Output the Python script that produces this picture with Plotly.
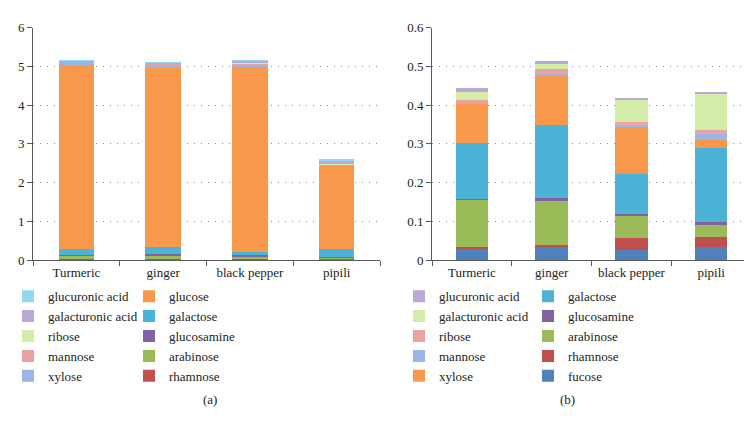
import plotly.graph_objects as go

categories = ["Turmeric", "ginger", "black pepper", "pipili"]

# Panel (a) — stacked bottom to top
a_names = ["rhamnose", "arabinose", "glucosamine", "galactose", "glucose",
           "xylose", "mannose", "ribose", "galacturonic acid", "glucuronic acid"]
a_rhamnose = [0.02, 0.03, 0.05, 0.04]
a_arabinose = [0.10, 0.10, 0.05, 0.03]
a_glucosamine = [0.02, 0.02, 0.02, 0.02]
a_galactose = [0.14, 0.18, 0.10, 0.19]
a_glucose = [4.75, 4.62, 4.75, 2.17]
a_xylose = [0.10, 0.12, 0.10, 0.02]
a_mannose = [0.01, 0.01, 0.02, 0.01]
a_ribose = [0.005, 0.01, 0.01, 0.01]
a_galacturonic = [0.01, 0.01, 0.05, 0.10]
a_glucuronic = [0.01, 0.01, 0.01, 0.01]
a_values = [a_rhamnose, a_arabinose, a_glucosamine, a_galactose, a_glucose,
            a_xylose, a_mannose, a_ribose, a_galacturonic, a_glucuronic]

# Panel (b) — stacked bottom to top
b_names = ["fucose", "rhamnose", "arabinose", "glucosamine", "galactose",
           "xylose", "mannose", "ribose", "galacturonic acid", "glucuronic acid"]
b_fucose = [0.030, 0.035, 0.025, 0.034]
b_rhamnose = [0.004, 0.005, 0.032, 0.025]
b_arabinose = [0.123, 0.116, 0.059, 0.031]
b_glucosamine = [0.001, 0.004, 0.004, 0.008]
b_galactose = [0.145, 0.188, 0.101, 0.190]
b_xylose = [0.102, 0.132, 0.125, 0.022]
b_mannose = [0.001, 0.001, 0.001, 0.014]
b_ribose = [0.008, 0.013, 0.010, 0.012]
b_galacturonic = [0.019, 0.013, 0.059, 0.094]
b_glucuronic = [0.011, 0.007, 0.003, 0.003]
b_values = [b_fucose, b_rhamnose, b_arabinose, b_glucosamine, b_galactose,
            b_xylose, b_mannose, b_ribose, b_galacturonic, b_glucuronic]

a_colors = {"rhamnose": "#c0504d", "arabinose": "#9bbb59", "glucosamine": "#8064a2",
            "galactose": "#4bb3d6", "glucose": "#f7984a", "xylose": "#9db5e4",
            "mannose": "#eba3a2", "ribose": "#d3eca8", "galacturonic acid": "#b8a9d6",
            "glucuronic acid": "#93d8f0"}
b_colors = {"fucose": "#4f81bd", "rhamnose": "#c0504d", "arabinose": "#9bbb59",
            "glucosamine": "#8064a2", "galactose": "#4bb3d6", "xylose": "#f7984a",
            "mannose": "#9db5e4", "ribose": "#eba3a2", "galacturonic acid": "#d3eca8",
            "glucuronic acid": "#b8a9d6"}

a_col1 = {"glucuronic acid", "galacturonic acid", "ribose", "mannose", "xylose"}
b_col1 = {"glucuronic acid", "galacturonic acid", "ribose", "mannose", "xylose"}

FONT = "Liberation Serif, DejaVu Serif, serif"
fig = go.Figure()

for name, vals in zip(a_names, a_values):
    fig.add_trace(go.Bar(x=categories, y=vals, name=name, marker_color=a_colors[name],
                         marker_line_width=0, xaxis="x", yaxis="y",
                         legend="legend" if name in a_col1 else "legend2"))
for name, vals in zip(b_names, b_values):
    fig.add_trace(go.Bar(x=categories, y=vals, name=name, marker_color=b_colors[name],
                         marker_line_width=0, xaxis="x2", yaxis="y2",
                         legend="legend3" if name in b_col1 else "legend4"))

W, H = 752, 425
axis_common = dict(showline=True, linecolor="#5a5a5a", linewidth=1, ticks="outside",
                   tickcolor="#5a5a5a", ticklen=5,
                   tickfont=dict(family=FONT, size=13, color="#222"))
ydom = [1 - 254 / H, 1 - 13 / H]
grid = dict(showgrid=True, gridcolor="#8a8a8a", griddash="1px,6px", gridwidth=1.2, zeroline=False)

leg_common = dict(font=dict(family=FONT, size=13, color="#222"), traceorder="reversed",
                  bgcolor="rgba(0,0,0,0)", yanchor="top", y=1 - 276 / H, xanchor="left",
                  itemwidth=30, tracegroupgap=0)

fig.update_layout(
    width=W, height=H, margin=dict(l=0, r=0, t=0, b=0),
    paper_bgcolor="white", plot_bgcolor="white", barmode="stack", bargap=0.59,
    font=dict(family=FONT, size=13, color="#222"),
    xaxis=dict(domain=[25 / W, 372 / W], anchor="y", tickson="boundaries", **axis_common),
    yaxis=dict(domain=ydom, anchor="x", range=[0, 6], dtick=1, **grid, **axis_common),
    xaxis2=dict(domain=[424 / W, 743 / W], anchor="y2", tickson="boundaries", **axis_common),
    yaxis2=dict(domain=ydom, anchor="x2", range=[0, 0.6],
                tickvals=[0, 0.1, 0.2, 0.3, 0.4, 0.5, 0.6],
                ticktext=["0", "0.1", "0.2", "0.3", "0.4", "0.5", "0.6"],
                **grid, **axis_common),
    legend=dict(x=0, **leg_common),
    legend2=dict(x=121 / W, **leg_common),
    legend3=dict(x=391 / W, **leg_common),
    legend4=dict(x=520 / W, **leg_common),
    annotations=[
        dict(text="(a)", x=193 / W, y=1 - 399 / H, xref="paper", yref="paper",
             yanchor="middle", showarrow=False, font=dict(family=FONT, size=13, color="#222")),
        dict(text="(b)", x=569 / W, y=1 - 399 / H, xref="paper", yref="paper",
             yanchor="middle", showarrow=False, font=dict(family=FONT, size=13, color="#222")),
    ],
)

fig.write_html("out.html")
